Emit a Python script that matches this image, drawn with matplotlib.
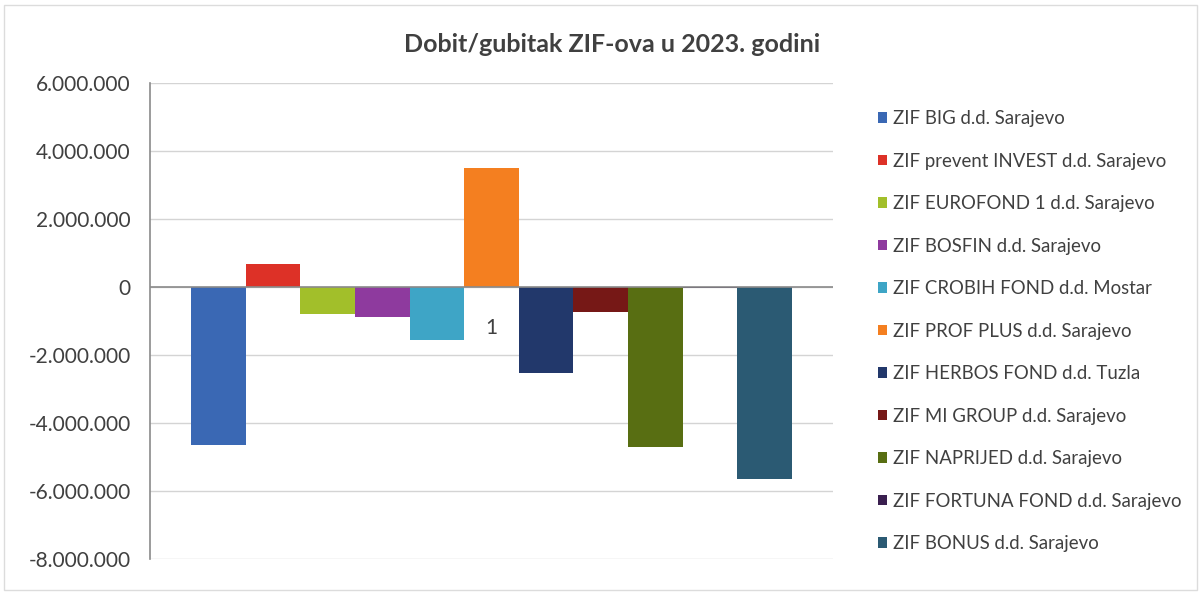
import numpy as np
import matplotlib
matplotlib.use('Agg')
import matplotlib.pyplot as plt
from matplotlib.patches import Patch, Rectangle
from matplotlib.ticker import FuncFormatter

plt.rcParams['font.family'] = ['Lato', 'DejaVu Sans']

# Data
funds = ['ZIF BIG d.d. Sarajevo', 'ZIF prevent INVEST d.d. Sarajevo', 'ZIF EUROFOND 1 d.d. Sarajevo',
         'ZIF BOSFIN d.d. Sarajevo', 'ZIF CROBIH FOND d.d. Mostar', 'ZIF PROF PLUS d.d. Sarajevo',
         'ZIF HERBOS FOND d.d. Tuzla', 'ZIF MI GROUP d.d. Sarajevo', 'ZIF NAPRIJED d.d. Sarajevo',
         'ZIF FORTUNA FOND d.d. Sarajevo', 'ZIF BONUS d.d. Sarajevo']
profit = [-4650000, 670000, -790000, -880000, -1550000, 3500000,
          -2520000, -730000, -4700000, -15000, -5640000]
colors = ['#3a68b4', '#dd3127', '#a2bf2a', '#8e3a9e', '#3ea5c6', '#f47f20',
          '#22386b', '#761816', '#586e12', '#3a1f4f', '#2b5a73']
category = '1'
yticks = np.arange(-8000000, 6000001, 2000000)
title = 'Dobit/gubitak ZIF-ova u 2023. godini'

text_col = '#404040'

fig = plt.figure(figsize=(12.01, 5.92), dpi=100)
ax = fig.add_axes([0.1249, 0.0557, 0.5687, 0.804])

x = np.arange(len(profit))
ax.bar(x, profit, width=1.0, color=colors, zorder=3)

ax.set_xlim(-0.5 - 0.75, len(profit) - 0.5 + 0.75)
ax.set_ylim(yticks[0], yticks[-1])
ax.set_yticks(yticks)
ax.yaxis.set_major_formatter(FuncFormatter(lambda v, p: f'{int(v):,}'.replace(',', '.')))
ax.tick_params(axis='y', length=0, pad=14, labelsize=15, labelcolor=text_col)

ax.grid(axis='y', color='#d4d4d4', linewidth=1.0, zorder=0)
ax.axhline(0, color='#8a8a8a', linewidth=1.2, zorder=4)

# category label sits under the zero line
ax.set_xticks([(len(profit) - 1) / 2])
ax.set_xticklabels([category])
ax.spines['bottom'].set_position(('data', 0))
ax.spines['bottom'].set_visible(False)
ax.tick_params(axis='x', length=0, pad=22, labelsize=15, labelcolor=text_col)

for s in ['top', 'right']:
    ax.spines[s].set_visible(False)
ax.spines['left'].set_color('#8a8a8a')
ax.spines['left'].set_linewidth(1.2)

fig.text(0.51, 0.925, title, ha='center', va='center', fontsize=18, fontweight='bold', color=text_col)

handles = [Patch(facecolor=c, edgecolor='none') for c in colors]
fig.legend(handles, funds, loc='upper left', bbox_to_anchor=(0.717, 0.842), frameon=False,
           fontsize=13.4, labelcolor=text_col, handlelength=0.5, handleheight=0.5,
           handletextpad=0.3, labelspacing=1.37)

# scanned page frame
fig.patches.append(Rectangle((0.003, 0.003), 0.994, 0.988, transform=fig.transFigure,
                             fill=False, edgecolor='#dcdcdc', linewidth=1.0))

fig.savefig('out.png', dpi=100)
